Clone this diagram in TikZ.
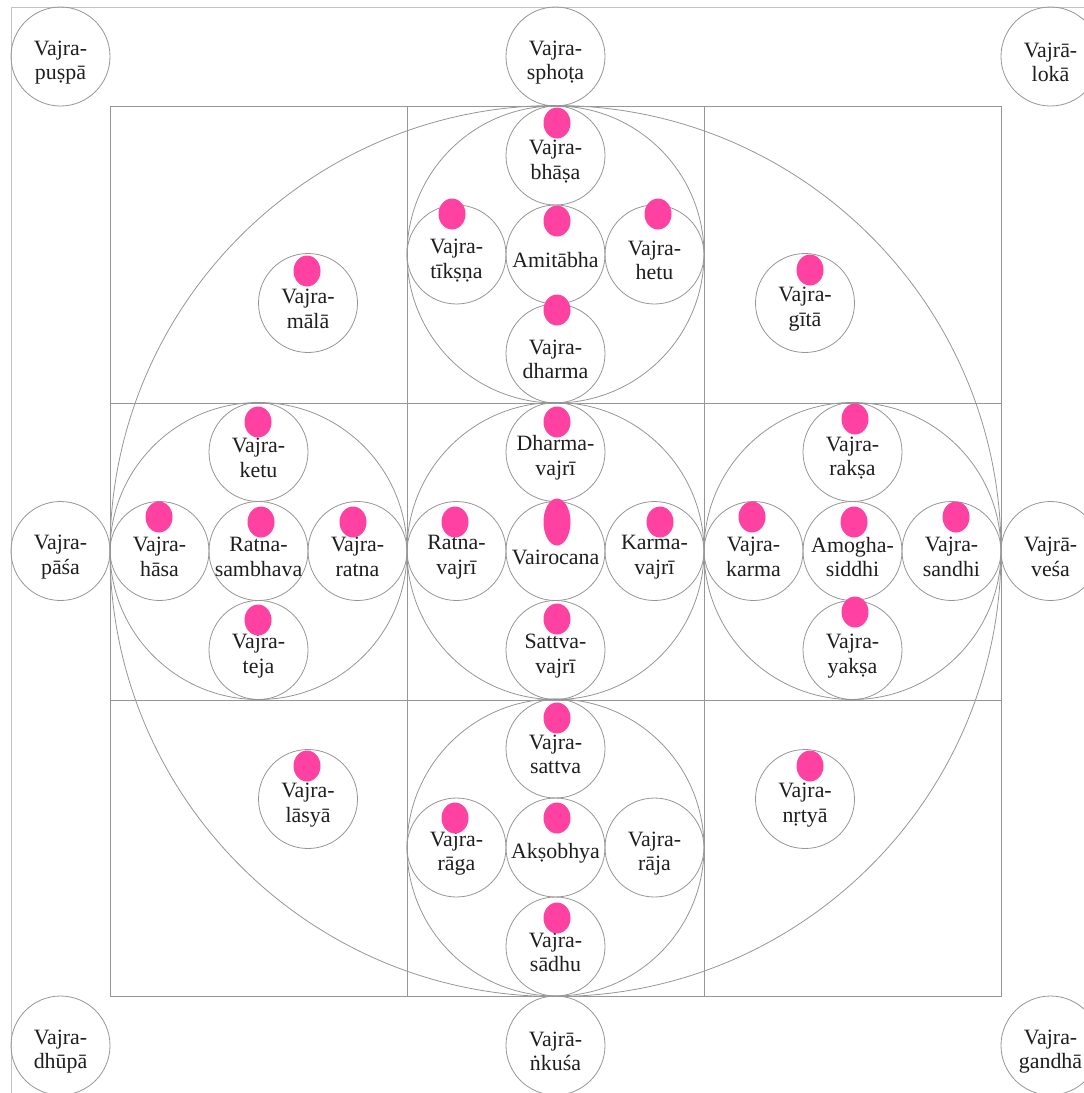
\documentclass[tikz,border=0pt]{standalone}
\usepackage{fontspec}
\setmainfont{Liberation Serif}
\definecolor{linegray}{RGB}{150,150,150}
\definecolor{framegray}{RGB}{195,195,195}
\definecolor{inkgray}{RGB}{30,30,30}
\definecolor{dotpink}{RGB}{255,66,162}
\tikzset{every picture/.style={line width=0.6pt}}
\tikzset{
  ring/.style={circle, draw=linegray, minimum size=74.25pt, inner sep=0pt},
  deity/.style={inner sep=0pt, align=center, text=inkgray, yshift=-4.5pt,
    font=\fontsize{16.4pt}{18.5pt}\selectfont},
  grid line/.style={draw=linegray, line width=0.5pt},
  seed/.style={fill=dotpink}
}
\begin{document}
\begin{tikzpicture}[x=0.75pt,y=0.75pt,yscale=-1,xscale=1]
\path[use as bounding box] (0,0) rectangle (1084,1093);
\clip (0,0) rectangle (1084,1093);

%Frame
\draw [framegray] (11,1093) -- (11,7) -- (1084,7) ;
%Shape: Square
\draw [grid line] (110,106) rectangle (1001,996) ;
%Straight Lines
\draw [grid line] (407,106) -- (407,996) ;
\draw [grid line] (704,106) -- (704,996) ;
\draw [grid line] (110,403) -- (1001,403) ;
\draw [grid line] (110,700) -- (1001,700) ;
%Shape: Big Circle
\draw [linegray] (555.5,551) circle (445.5) ;
%Shape: Medium Circles
\draw [linegray] (555.5,254.5) circle (148.5) ;
\draw [linegray] (258.5,551) circle (148.5) ;
\draw [linegray] (555.5,551) circle (148.5) ;
\draw [linegray] (852.5,551) circle (148.5) ;
\draw [linegray] (555.5,847.5) circle (148.5) ;

% Outer ring
\node [ring] (puspa) at (60.5,56.5) {};
\node [deity] (puspa-t) at (puspa) {Vajra-\\puṣpā};
\node [ring] (sphota) at (555.5,56.5) {};
\node [deity] (sphota-t) at (sphota) {Vajra-\\sphoṭa};
\node [ring] (loka) at (1050.5,56.5) {};
\node [deity] (loka-t) at (loka) {Vajrā-\\lokā};
\node [ring] (pasa) at (60.5,551) {};
\node [deity] (pasa-t) at (pasa) {Vajra-\\pāśa};
\node [ring] (vesa) at (1050.5,551) {};
\node [deity] (vesa-t) at (vesa) {Vajrā-\\veśa};
\node [ring] (dhupa) at (60.5,1045.5) {};
\node [deity] (dhupa-t) at (dhupa) {Vajra-\\dhūpā};
\node [ring] (ankusa) at (555.5,1045.5) {};
\node [deity] (ankusa-t) at (ankusa) {Vajrā-\\ṅkuśa};
\node [ring] (gandha) at (1050.5,1045.5) {};
\node [deity] (gandha-t) at (gandha) {Vajra-\\gandhā};

% Corner cells
\node [ring] (mala) at (308,303) {};
\node [deity] (mala-t) at (mala) {Vajra-\\mālā};
\node [ring] (gita) at (805,303) {};
\node [deity] (gita-t) at (gita) {Vajra-\\gītā};
\node [ring] (lasya) at (308,799) {};
\node [deity] (lasya-t) at (lasya) {Vajra-\\lāsyā};
\node [ring] (nrtya) at (805,799) {};
\node [deity] (nrtya-t) at (nrtya) {Vajra-\\nṛtyā};

% Top cluster
\node [ring] (bhasa) at (555.5,155.5) {};
\node [deity] (bhasa-t) at (bhasa) {Vajra-\\bhāṣa};
\node [ring] (tiksna) at (456.5,254.5) {};
\node [deity] (tiksna-t) at (tiksna) {Vajra-\\tīkṣṇa};
\node [ring] (amitabha) at (555.5,254.5) {};
\node [deity] (amitabha-t) at (amitabha) {Amitābha};
\node [ring] (hetu) at (654.5,254.5) {};
\node [deity] (hetu-t) at (hetu) {Vajra-\\hetu};
\node [ring] (dharma) at (555.5,353.5) {};
\node [deity] (dharma-t) at (dharma) {Vajra-\\dharma};

% Left cluster
\node [ring] (ketu) at (258.5,452) {};
\node [deity] (ketu-t) at (ketu) {Vajra-\\ketu};
\node [ring] (hasa) at (159.5,551) {};
\node [deity] (hasa-t) at (hasa) {Vajra-\\hāsa};
\node [ring] (ratnasambhava) at (258.5,551) {};
\node [deity] (ratnasambhava-t) at (ratnasambhava) {Ratna-\\sambhava};
\node [ring] (ratna) at (357.5,551) {};
\node [deity] (ratna-t) at (ratna) {Vajra-\\ratna};
\node [ring] (teja) at (258.5,650) {};
\node [deity] (teja-t) at (teja) {Vajra-\\teja};

% Centre cluster
\node [ring] (dharmavajri) at (555.5,452) {};
\node [deity] (dharmavajri-t) at (dharmavajri) {Dharma-\\vajrī};
\node [ring] (ratnavajri) at (456.5,551) {};
\node [deity] (ratnavajri-t) at (ratnavajri) {Ratna-\\vajrī};
\node [ring] (vairocana) at (555.5,551) {};
\node [deity] (vairocana-t) at (vairocana) {Vairocana};
\node [ring] (karmavajri) at (654.5,551) {};
\node [deity] (karmavajri-t) at (karmavajri) {Karma-\\vajrī};
\node [ring] (sattvavajri) at (555.5,650) {};
\node [deity] (sattvavajri-t) at (sattvavajri) {Sattva-\\vajrī};

% Right cluster
\node [ring] (raksa) at (852.5,452) {};
\node [deity] (raksa-t) at (raksa) {Vajra-\\rakṣa};
\node [ring] (karma) at (753.5,551) {};
\node [deity] (karma-t) at (karma) {Vajra-\\karma};
\node [ring] (amogha) at (852.5,551) {};
\node [deity] (amogha-t) at (amogha) {Amogha-\\siddhi};
\node [ring] (sandhi) at (951.5,551) {};
\node [deity] (sandhi-t) at (sandhi) {Vajra-\\sandhi};
\node [ring] (yaksa) at (852.5,650) {};
\node [deity] (yaksa-t) at (yaksa) {Vajra-\\yakṣa};

% Bottom cluster
\node [ring] (sattva) at (555.5,748.5) {};
\node [deity] (sattva-t) at (sattva) {Vajra-\\sattva};
\node [ring] (raga) at (456.5,847.5) {};
\node [deity] (raga-t) at (raga) {Vajra-\\rāga};
\node [ring] (aksobhya) at (555.5,847.5) {};
\node [deity] (aksobhya-t) at (aksobhya) {Akṣobhya};
\node [ring] (raja) at (654.5,847.5) {};
\node [deity] (raja-t) at (raja) {Vajra-\\rāja};
\node [ring] (sadhu) at (555.5,946.5) {};
\node [deity] (sadhu-t) at (sadhu) {Vajra-\\sādhu};

%Shape: Ellipse (dots)
\fill [seed] (557,123) ellipse (13.5 and 15.5) ;
\fill [seed] (452,214) ellipse (13.5 and 15.5) ;
\fill [seed] (557,221) ellipse (13.5 and 15.5) ;
\fill [seed] (658,214) ellipse (13.5 and 15.5) ;
\fill [seed] (557,310) ellipse (13.5 and 15.5) ;
\fill [seed] (307,271) ellipse (13.5 and 15.5) ;
\fill [seed] (810,270) ellipse (13.5 and 15.5) ;
\fill [seed] (307,766) ellipse (13.5 and 15.5) ;
\fill [seed] (810,766) ellipse (13.5 and 15.5) ;
\fill [seed] (258,422) ellipse (13.5 and 15.5) ;
\fill [seed] (159,517) ellipse (13.5 and 15.5) ;
\fill [seed] (261,522) ellipse (13.5 and 15.5) ;
\fill [seed] (353,522) ellipse (13.5 and 15.5) ;
\fill [seed] (258,620) ellipse (13.5 and 15.5) ;
\fill [seed] (557,422) ellipse (13.5 and 15.5) ;
\fill [seed] (455,522) ellipse (13.5 and 15.5) ;
\fill [seed] (557,522) ellipse (13.5 and 23.5) ;
\fill [seed] (660,522) ellipse (13.5 and 15.5) ;
\fill [seed] (557,619) ellipse (13.5 and 15.5) ;
\fill [seed] (855,419) ellipse (13.5 and 15.5) ;
\fill [seed] (752,517) ellipse (13.5 and 15.5) ;
\fill [seed] (854,522) ellipse (13.5 and 15.5) ;
\fill [seed] (956,517) ellipse (13.5 and 15.5) ;
\fill [seed] (855,612) ellipse (13.5 and 15.5) ;
\fill [seed] (557,718) ellipse (13.5 and 15.5) ;
\fill [seed] (455,818) ellipse (13.5 and 15.5) ;
\fill [seed] (557,818) ellipse (13.5 and 15.5) ;
\fill [seed] (557,918) ellipse (13.5 and 15.5) ;

\end{tikzpicture}
\end{document}
